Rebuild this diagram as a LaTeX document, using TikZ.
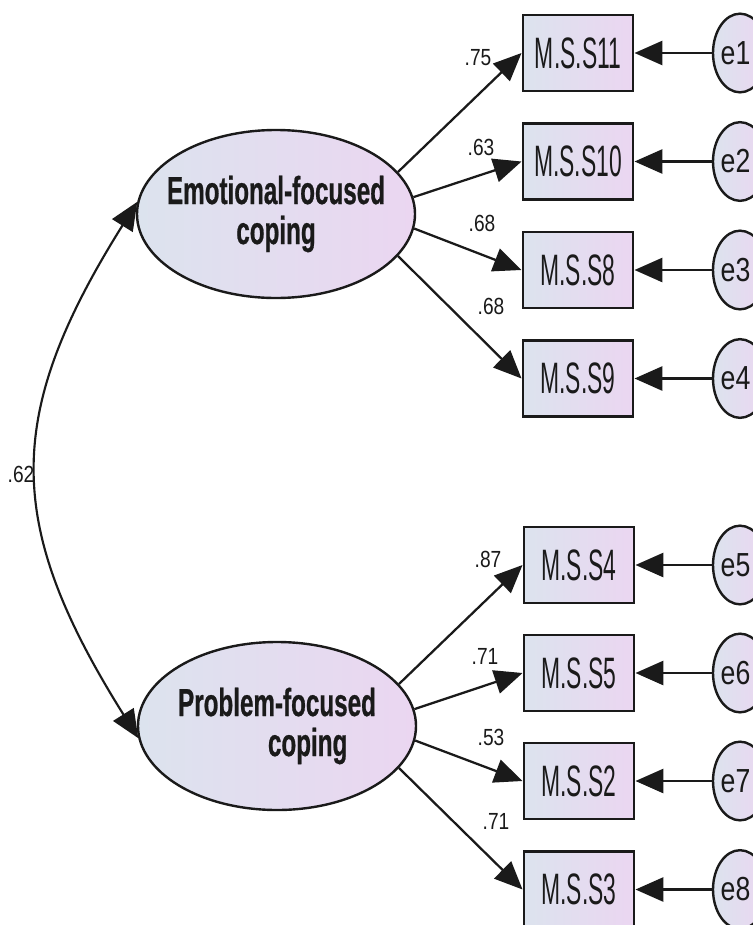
\documentclass[tikz,border=0pt]{standalone}
\usepackage{fontspec}
\setmainfont{Liberation Sans}
\newfontfamily\boxfont[FakeStretch=0.52]{Liberation Sans}
\newfontfamily\latfont[FakeStretch=0.62,FakeBold=0.6]{Liberation Sans}
\newfontfamily\numfont[FakeStretch=0.82]{Liberation Sans}
\newfontfamily\errfont[FakeStretch=0.8]{Liberation Sans}
\usetikzlibrary{arrows.meta,shapes.geometric}
\definecolor{fillL}{HTML}{DCE3EE}
\definecolor{fillR}{HTML}{EBD6F1}
\definecolor{ink}{HTML}{1A1A1A}
\tikzset{
  obs/.style={draw=ink, line width=2.2pt, minimum width=82.5pt, minimum height=57pt,
    inner sep=0pt, left color=fillL, right color=fillR, text=ink,
    font=\boxfont\fontsize{33}{34}\selectfont},
  lat/.style={ellipse, draw=ink, line width=1.8pt, minimum width=208.5pt, minimum height=126pt,
    inner sep=0pt, left color=fillL, right color=fillR},
  lattext/.style={align=center, inner sep=0pt, text=ink,
    font=\latfont\bfseries\fontsize{29.3}{30}\selectfont},
  err/.style={ellipse, draw=ink, line width=1.8pt, minimum width=40.5pt, minimum height=59pt,
    inner sep=0pt, left color=fillL, right color=fillR},
  errtext/.style={inner sep=0pt, text=ink, font=\errfont\fontsize{25}{26}\selectfont},
  num/.style={inner sep=0pt, text=ink, font=\numfont\fontsize{17.5}{18}\selectfont},
  tip/.tip={Triangle[length=21pt,width=18pt]},
  load/.style={draw=ink, line width=1.7pt, -tip},
  errarr/.style={draw=ink, line width=2.2pt, -tip},
  cov/.style={draw=ink, line width=1.6pt, tip-tip}
}
\begin{document}
\begin{tikzpicture}[x=0.75pt,y=-0.75pt]
\useasboundingbox (0,0) rectangle (753,925);
\clip (0,0) rectangle (753,925);
\fill[white] (0,0) rectangle (753,925);

% latent variables
\node[lat] (E) at (276,214) {};
\node[lattext] (Et) at (E.center) {Emotional-focused\\coping};
\node[lat] (P) at (277,726) {};
\node[lattext] (Pt) at (P.center) {Problem-focused\\\hspace*{46pt}coping};

% observed variables
\node[obs] (b1) at (578,53) {M.S.S11};
\node[obs] (b2) at (578,161.5) {M.S.S10};
\node[obs] (b3) at (578,270) {M.S.S8};
\node[obs] (b4) at (578,378.5) {M.S.S9};
\node[obs] (b5) at (579,565) {M.S.S4};
\node[obs] (b6) at (579,673) {M.S.S5};
\node[obs] (b7) at (579,781) {M.S.S2};
\node[obs] (b8) at (579,889.5) {M.S.S3};

% error terms
\foreach \i/\y in {1/53,2/161.5,3/270,4/378.5,5/565,6/673,7/781,8/889.5}{
  \node[err] (e\i) at (740,\y) {};
  \node[errtext] (et\i) at (735.5,\y) {e\i};
  \draw[errarr] (e\i.west) -- (b\i.east);
}

% loadings
\draw[load] (E.19) -- (b1.west);
\draw[load] (E.7) -- (b2.west);
\draw[load] (E.-6) -- (b3.west);
\draw[load] (E.-19) -- (b4.west);
\draw[load] (P.19) -- (b5.west);
\draw[load] (P.7) -- (b6.west);
\draw[load] (P.-6) -- (b7.west);
\draw[load] (P.-19) -- (b8.west);

% covariance
\draw[cov] (E.175) .. controls +(-134,214) and +(-134,-214) .. (P.185);

% labels
\node[num] (l1) at (478,58) {.75};
\node[num] (l2) at (481,147) {.63};
\node[num] (l3) at (482,223) {.68};
\node[num] (l4) at (491,306) {.68};
\node[num] (l5) at (488,559) {.87};
\node[num] (l6) at (485,656) {.71};
\node[num] (l7) at (491,737) {.53};
\node[num] (l8) at (496,821) {.71};
\node[num] (l9) at (21,474) {.62};
\end{tikzpicture}
\end{document}
